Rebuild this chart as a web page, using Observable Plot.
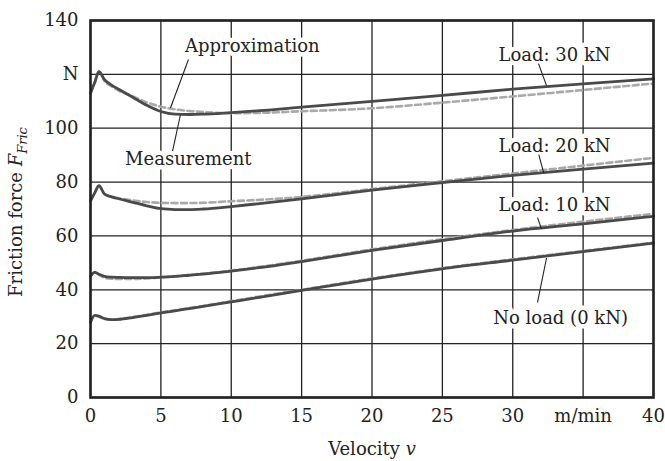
<!DOCTYPE html>
<html>
<head>
<meta charset="utf-8">
<script src="https://cdn.jsdelivr.net/npm/d3@7"></script>
<script src="https://cdn.jsdelivr.net/npm/@observablehq/plot@0.6"></script>
<style>
  body { margin: 0; background: #fff; }
</style>
</head>
<body>
<div id="chart"></div>
<script>
// Velocity sample points (m/min)
const velocity = [0, 0.3, 0.6, 1, 1.5, 2, 3, 4, 5, 6, 7, 8, 10, 12, 15, 20, 25, 30, 35, 40];

// Measured friction force (N)
const meas30 = [113, 117, 121, 118, 116, 114.5, 111.5, 108.5, 106.2, 105.2, 105.1, 105.2, 105.8, 106.5, 107.8, 110, 112.2, 114.5, 116.5, 118.3];
const meas20 = [73, 76, 78.7, 75.5, 74.5, 73.8, 72.5, 71.2, 70.1, 69.8, 69.8, 70, 70.9, 72, 73.8, 77, 79.8, 82.5, 84.8, 87];
const meas10 = [45, 46.5, 45.8, 45, 44.7, 44.6, 44.5, 44.5, 44.7, 45, 45.4, 45.8, 46.9, 48.2, 50.5, 54.6, 58.3, 61.8, 64.5, 67.3];
const meas0  = [28, 30.5, 30.2, 29.3, 28.9, 29, 29.7, 30.5, 31.4, 32.2, 33, 33.8, 35.5, 37.2, 39.8, 44, 47.8, 51, 54.2, 57.3];

// Approximation (N)
const approx30 = [113, 117, 121, 117.5, 115.5, 114, 111.8, 109.6, 108, 107, 106.4, 106, 105.6, 105.7, 106.3, 107.4, 109.5, 111.8, 114.2, 116.6];
const approx20 = [73, 76, 78.5, 75.5, 74.5, 74, 73.2, 72.6, 72.3, 72.2, 72.2, 72.3, 72.9, 73.4, 74.5, 77.4, 80.3, 83.2, 86.1, 89];
const approx10 = [45, 46.5, 45.5, 44.5, 44.1, 44, 44, 44.2, 44.6, 45, 45.5, 46, 47.1, 48.5, 50.8, 55, 58.8, 62.2, 65.3, 68.2];
const approx0  = [28, 30.4, 30, 29.2, 28.9, 29.1, 29.9, 30.7, 31.6, 32.4, 33.2, 34, 35.8, 37.5, 40, 44.2, 48, 51.3, 54.4, 57.5];

// Ticks
const xTicks = [0, 5, 10, 15, 20, 25, 30, 35, 40];
const xTickLabels = ["0", "5", "10", "15", "20", "25", "30", "m/min", "40"];
const yTicks = [0, 20, 40, 60, 80, 100, 120, 140];
const yTickLabels = ["0", "20", "40", "60", "80", "100", "N", "140"];

// Annotations (label, label position, leader start, leader end) in data units
const annLabels = ["Approximation", "Measurement", "Load: 30 kN", "Load: 20 kN", "Load: 10 kN", "No load (0 kN)"];
const annX  = [11.5, 6.95, 32.97, 32.97, 32.97, 33.4];
const annY  = [130.3, 88.6, 127.2, 93.3, 71.3, 29.6];
const leadX1 = [6.96, 5.83, 31.83, 31.85, 31.76, 31.76];
const leadY1 = [125.5, 91.5, 124, 90.2, 66.8, 35.3];
const leadX2 = [5.68, 6.39, 32.4, 32.2, 32.04, 32.4];
const leadY2 = [107.5, 105, 115.8, 83.4, 62.6, 51.8];

const series = [meas30, meas20, meas10, meas0];
const approxSeries = [approx30, approx20, approx10, approx0];
const toRows = (arr, k) => velocity.map((v, i) => ({v, f: arr[i], k}));
const measRows = series.flatMap((s, k) => toRows(s, k));
const approxRows = approxSeries.flatMap((s, k) => toRows(s, k));
const ann = annLabels.map((t, i) => ({t, x: annX[i], y: annY[i], x1: leadX1[i], y1: leadY1[i], x2: leadX2[i], y2: leadY2[i]}));

const chart = Plot.plot({
  width: 665,
  height: 461,
  marginLeft: 90,
  marginRight: 12,
  marginTop: 20,
  marginBottom: 64,
  style: {fontFamily: "'DejaVu Serif', serif", fontSize: "18px", color: "#222", background: "#fff"},
  x: {domain: [0, 40]},
  y: {domain: [0, 140]},
  marks: [
    Plot.gridX(xTicks, {stroke: "#222", strokeOpacity: 1, strokeWidth: 1.3}),
    Plot.gridY(yTicks, {stroke: "#222", strokeOpacity: 1, strokeWidth: 1.3}),
    Plot.axisX({ticks: xTicks, tickSize: 0, tickPadding: 12, label: null,
      tickFormat: (d) => xTickLabels[xTicks.indexOf(d)], fill: "#222"}),
    Plot.axisY({ticks: yTicks, tickSize: 0, tickPadding: 12, label: null,
      tickFormat: (d) => yTickLabels[yTicks.indexOf(d)], fill: "#222"}),
    Plot.text(ann, {x: "x", y: "y", text: "t", stroke: "white", strokeWidth: 9, fill: "#222", fontSize: 18}),
    Plot.lineY(approxRows, {x: "v", y: "f", z: "k", stroke: "#a9a9a9", strokeWidth: 2.6, strokeDasharray: "6,3.5", curve: "monotone-x"}),
    Plot.lineY(measRows, {x: "v", y: "f", z: "k", stroke: "#4a4a4a", strokeWidth: 2.8, curve: "monotone-x"}),
    Plot.link(ann, {x1: "x1", y1: "y1", x2: "x2", y2: "y2", stroke: "#222", strokeWidth: 1.1}),
    Plot.frame({stroke: "#222", strokeWidth: 2.6})
  ]
});

const svg = d3.select(chart);
// Y axis label with italic subscript
const yl = svg.append("text")
  .attr("transform", "translate(22,212) rotate(-90)")
  .attr("text-anchor", "middle")
  .attr("fill", "#222")
  .style("font-family", "'DejaVu Serif', serif")
  .style("font-size", "18px");
yl.append("tspan").text("Friction force ");
yl.append("tspan").attr("font-style", "italic").text("F");
yl.append("tspan").attr("font-style", "italic").attr("font-size", "13px").attr("dy", "5").text("Fric");

// X axis label
const xl = svg.append("text")
  .attr("x", 372).attr("y", 455)
  .attr("text-anchor", "middle")
  .attr("fill", "#222")
  .style("font-family", "'DejaVu Serif', serif")
  .style("font-size", "18px");
xl.append("tspan").text("Velocity ");
xl.append("tspan").attr("font-style", "italic").text("v");

document.getElementById("chart").appendChild(chart);
</script>
</body>
</html>
